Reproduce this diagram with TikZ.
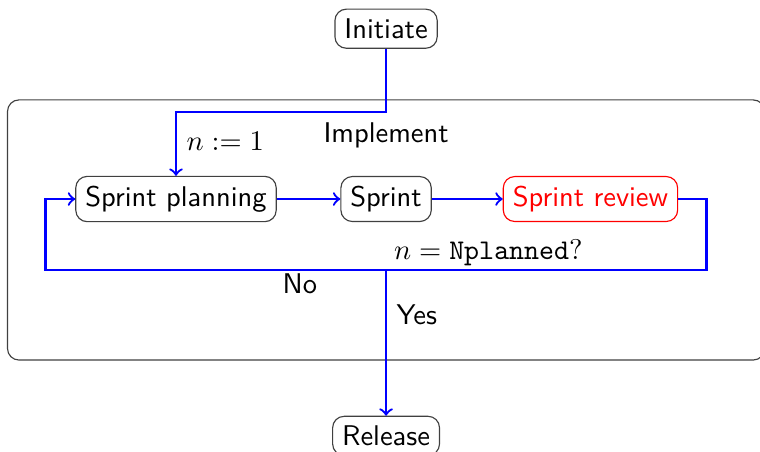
\documentclass[tikz,border=0pt]{standalone}
\usepackage{amsmath}
\usepackage{color}

\begin{document}
\begin{tikzpicture}[font=\sffamily,
    phase/.style={draw=black!75, rounded corners, fill=white},
    flow/.style={->, thick, blue},
    tag/.style={text=black},
    group/.style={draw=black!75, rounded corners}]

    \useasboundingbox (-4.76,2.454) rectangle (4.61,-3.107);

    % the implement phase round the sprint loop
    \draw[group] (-4.667,1.222) rectangle (4.667,-1.985);
    \node (impltitle) at (0,0.79) {Implement};

    \node[phase] (init) at (0,2.1) {Initiate};
    \node[phase] (plan) at (-2.59,0) {Sprint planning};
    \node[phase] (sprint) at (0,0) {Sprint};
    \node[phase, draw=red, text=red] (review) at (2.52,0) {Sprint review};
    \node[phase] (release) at (0,-2.92) {Release};

    \coordinate (entry) at (-2.59,1.07);
    \coordinate (decide) at (0,-0.875);
    \coordinate (loopR) at (3.95,-0.875);
    \coordinate (loopL) at (-4.2,-0.875);

    \draw[flow] (init) |- (entry) -- node[tag, right, pos=.45] {$n := 1$} (plan);
    \draw[flow] (plan) -- (sprint);
    \draw[flow] (sprint) -- (review);
    \draw[flow] (review) -| (loopR)
        -- node[tag, above, inner sep=1pt, pos=.33] {$n = \mathtt{Nplanned}?$}
           node[tag, below, inner sep=1pt, pos=.615] {No} (loopL)
        |- (plan);
    \draw[flow] (decide) -- node[tag, right, pos=.31] {Yes} (release);
\end{tikzpicture}
\end{document}
